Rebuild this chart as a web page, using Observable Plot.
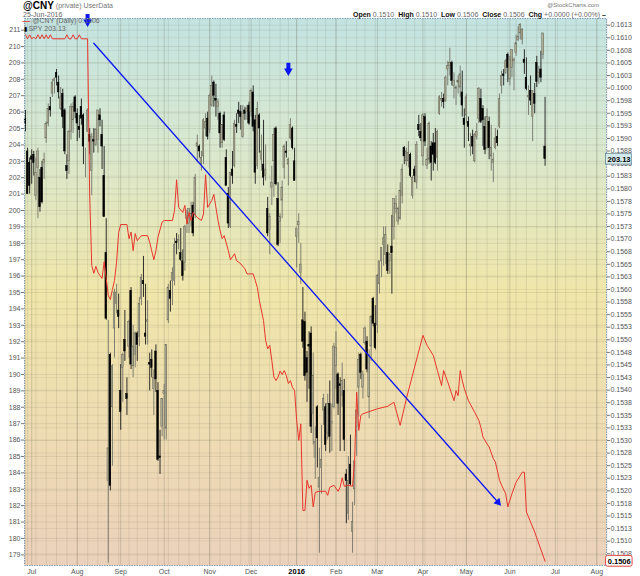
<!DOCTYPE html>
<html><head><meta charset="utf-8">
<script src="https://cdn.jsdelivr.net/npm/d3@7"></script>
<script src="https://cdn.jsdelivr.net/npm/@observablehq/plot@0.6"></script>
<style>body{margin:0;background:#fff;} #chart svg{display:block;}</style>
</head><body><div id="chart"></div>
<script>
// ---------- calendar ----------
const firstDay = "2015-06-26";
const lastDay = "2016-08-10";
const holidays = ["2015-07-03","2015-09-07","2015-11-26","2015-12-25","2016-01-01","2016-01-18","2016-02-15","2016-03-25","2016-05-30","2016-07-04"];

// ---------- SPY daily candles [open, high, low, close], one row per trading day from firstDay ----------
const spyOHLC = [
[205.6,206.1,204.8,205.3],[203.6,203.8,201.0,201.0],[202.9,203.2,201.0,201.5],[203.3,203.7,201.6,203.1],[203.4,203.6,202.1,202.9],
[200.9,203.2,200.6,202.3],[202.6,203.8,199.5,203.6],[202.0,202.5,199.9,200.2],[202.6,203.0,200.4,200.5],[202.9,203.5,201.9,203.1],
[204.4,205.4,204.1,205.3],[205.3,206.5,205.1,206.2],[206.3,206.9,205.7,206.1],[207.1,208.0,206.9,207.8],[207.9,208.1,207.1,208.0],
[208.4,208.6,207.6,208.1],[207.8,208.2,206.8,207.2],[206.2,207.5,206.1,206.9],[207.1,207.4,205.0,205.7],[206.1,206.2,203.4,203.6],
[202.7,203.4,201.9,202.4],[203.0,204.9,202.2,204.8],[204.8,206.5,204.3,206.3],[205.5,206.6,204.7,206.3],[206.9,207.0,205.6,206.0],
[205.9,206.2,204.2,205.3],[205.1,205.8,204.4,204.9],[206.3,206.8,205.2,205.6],[205.8,205.9,202.8,203.9],[203.5,203.8,202.0,203.5],
[204.8,206.2,204.8,206.1],[204.6,205.0,203.4,204.2],[202.4,204.7,200.9,204.5],[204.3,205.0,203.5,204.2],[204.0,205.0,203.9,204.9],
[204.3,206.1,203.5,206.1],[205.8,206.2,205.1,205.5],[204.6,205.5,202.5,203.9],[202.1,203.9,199.6,199.6],[197.4,199.5,193.3,193.4],
[183.5,193.3,178.5,185.5],[191.2,191.3,182.9,183.2],[188.0,190.6,184.4,190.5],[192.8,195.2,191.0,195.0],[194.3,195.5,193.7,195.0],
[193.9,194.9,192.8,193.5],[189.0,190.6,186.6,187.7],[190.4,191.3,188.3,191.2],[192.1,193.9,190.8,191.4],[188.8,189.8,187.5,188.5],
[191.7,193.3,191.0,193.2],[195.1,195.3,190.3,190.6],[190.5,193.0,189.8,191.7],[191.2,192.6,190.4,192.5],[192.5,192.6,190.8,191.8],
[192.3,194.7,191.7,194.3],[194.6,196.1,194.2,195.9],[195.7,197.2,194.7,195.5],[192.5,195.5,191.8,192.3],[193.2,194.5,191.8,193.3],
[190.7,191.3,189.0,190.6],[190.9,191.5,189.8,190.4],[189.1,190.3,187.5,189.8],[191.4,191.8,188.9,189.7],[189.0,189.5,184.7,184.8],
[185.0,186.6,183.9,184.9],[186.8,188.5,186.2,188.5],[188.8,189.4,186.0,189.0],[186.7,191.8,186.0,191.8],[193.3,195.5,193.1,195.3],
[195.1,195.7,193.8,194.6],[195.7,196.5,194.2,196.2],[195.7,198.3,195.4,197.9],[198.1,198.6,197.3,198.0],[198.1,198.5,197.6,198.2],
[197.4,198.9,196.9,197.0],[196.9,197.6,195.7,196.0],[196.8,199.1,196.3,199.0],[199.5,200.0,198.6,200.0],[199.2,200.1,198.6,200.1],
[199.6,200.5,199.0,199.8],[200.3,200.5,198.4,198.6],[199.7,202.2,199.5,202.0],[203.9,204.6,202.9,204.1],[203.9,204.0,203.2,203.6],
[202.8,203.6,202.4,203.2],[203.3,205.6,202.8,205.5],[205.0,205.9,204.5,205.4],[205.6,206.0,204.3,204.5],[204.9,207.1,204.7,207.0],
[206.4,208.2,206.3,207.6],[207.8,207.9,206.3,207.0],[206.8,207.7,205.7,206.7],[206.3,206.8,205.5,206.6],[205.9,206.0,203.8,204.7],
[204.1,205.2,203.8,205.2],[205.8,206.0,204.2,204.3],[203.2,203.7,201.5,201.5],[201.0,201.4,198.9,199.2],[199.0,202.3,198.9,202.3],
[202.5,203.6,201.6,202.1],[202.7,205.5,202.6,205.3],[205.2,205.9,204.7,205.1],[206.1,206.6,205.3,205.9],[206.0,206.4,204.9,205.7],
[204.5,206.4,204.4,205.9],[206.1,206.3,205.5,205.9],[206.0,206.4,205.5,206.2],[206.4,206.6,205.2,205.3],[206.0,207.4,205.7,207.3],
[207.2,207.6,204.8,205.1],[205.5,205.8,201.6,202.3],[202.7,206.6,202.5,206.2],[205.8,205.9,203.5,205.0],[203.1,204.6,202.4,203.6],
[202.8,205.5,201.5,202.0],[202.1,204.0,201.8,202.5],[200.1,200.8,198.4,198.6],[198.8,199.8,197.3,199.6],[201.4,202.7,200.3,201.7],
[203.0,205.0,200.8,204.6],[205.0,205.1,201.5,201.6],[200.7,201.7,197.8,197.9],[199.3,199.8,198.0,199.6],[200.6,201.8,199.5,201.4],
[202.6,204.0,201.9,203.9],[203.6,204.2,203.2,203.5],[202.8,203.2,201.5,203.1],[204.4,205.6,204.3,205.2],[205.0,205.1,203.7,203.8],
[203.0,203.8,201.8,201.8],[198.4,198.9,196.5,198.9],[199.1,199.8,198.0,199.3],[196.2,198.0,195.5,196.7],[193.3,195.3,191.6,192.0],
[193.2,193.8,189.6,189.9],[191.0,191.4,188.3,190.1],[191.8,192.6,189.1,191.7],[192.5,192.9,186.4,186.8],[187.6,191.3,185.7,189.9],
[184.9,186.8,183.6,185.9],[188.0,188.1,184.3,186.1],[183.1,185.5,179.1,183.7],[184.3,186.9,182.7,184.8],[187.8,188.8,186.9,188.5],
[188.0,188.2,185.3,185.7],[186.4,188.8,186.0,188.2],[188.2,189.6,185.2,186.2],[187.0,188.2,185.3,187.1],[188.0,191.9,187.9,191.7],
[190.5,192.6,189.1,191.6],[190.0,190.1,187.5,188.2],[189.4,189.8,185.3,189.3],[188.7,190.7,188.0,189.6],[189.0,189.7,185.3,186.0],
[183.9,184.2,180.9,183.5],[181.5,185.0,181.1,183.5],[184.5,186.3,183.2,183.3],[180.4,182.2,179.1,181.0],[183.0,184.7,182.0,184.7],
[186.8,187.8,185.0,187.8],[189.2,191.3,187.4,190.9],[191.2,191.3,189.7,190.1],[189.2,190.2,188.5,190.0],[191.9,192.9,191.8,192.8],
[192.0,192.3,190.1,190.3],[188.6,191.5,187.3,191.2],[191.7,193.6,190.8,193.5],[194.6,194.7,192.9,193.1],[193.1,194.2,191.5,191.6],
[193.0,196.1,192.5,196.0],[195.5,196.9,194.9,196.9],[196.9,197.7,195.9,197.7],[197.9,199.0,196.6,198.3],[197.3,199.0,196.7,198.5],
[197.4,197.9,196.1,196.3],[196.9,197.4,196.1,197.3],[197.8,199.7,194.9,197.4],[199.0,200.7,198.2,200.7],[200.1,200.9,199.8,200.4],
[199.3,200.2,199.1,200.1],[199.5,201.7,199.4,201.2],[200.9,202.8,200.4,202.5],[203.8,203.9,202.8,203.3],[203.0,203.8,202.7,203.6],
[203.0,204.2,202.6,203.5],[203.4,203.5,202.0,202.1],[200.9,202.1,200.7,202.0],[202.5,202.7,201.7,202.1],[201.7,204.2,201.3,204.0],
[205.2,205.8,204.5,204.9],[204.8,205.3,204.2,204.4],[203.3,205.9,202.7,205.8],[205.7,205.9,203.9,204.2],[202.7,203.8,202.5,203.1],
[203.1,205.4,202.8,205.3],[203.9,204.2,201.8,202.9],[204.1,204.7,202.4,203.4],[204.1,205.0,202.8,202.9],[203.2,204.9,202.4,204.8],
[205.9,207.0,205.8,206.9],[206.7,207.2,206.3,206.8],[206.8,207.1,206.2,206.6],[206.7,208.2,206.6,208.1],[208.6,209.1,207.6,208.8],
[208.8,209.9,208.2,209.0],[209.0,209.1,207.6,207.9],[207.6,208.4,206.8,207.9],[207.4,207.6,206.4,207.5],[207.8,208.2,207.1,207.9],
[207.5,208.8,206.9,208.3],[207.2,208.5,205.7,206.4],[205.6,206.2,203.8,205.2],[205.8,207.1,205.3,206.9],[205.4,205.7,204.2,205.1],
[203.9,204.7,203.3,204.0],[204.5,204.9,203.4,203.9],[203.0,204.7,202.9,204.6],[204.5,205.3,204.3,204.8],[205.6,207.5,205.3,207.4],
[206.8,207.4,205.3,205.4],[206.2,206.4,203.9,205.5],[205.1,205.7,203.4,203.7],[203.8,206.2,203.7,205.7],[205.4,205.7,203.1,203.8],
[203.3,205.2,202.4,203.8],[202.9,203.5,201.7,203.1],[203.8,205.0,203.7,204.4],[204.5,204.9,203.9,204.1],[205.1,207.1,205.0,206.8],
[207.6,208.5,207.1,208.2],[208.3,208.6,207.6,208.2],[208.4,209.2,208.3,209.1],[209.5,209.6,207.8,208.7],[208.0,209.4,207.6,209.2],
[208.7,209.8,208.1,209.8],[209.1,209.3,207.3,209.2],[209.6,210.7,209.4,210.2],[210.4,211.2,210.3,210.6],[210.8,211.4,210.4,211.3],
[210.4,211.1,210.1,211.0],[209.2,209.8,208.3,209.0],[208.1,209.3,207.3,207.4],[206.9,207.6,205.8,207.0],[207.3,208.2,206.4,206.7],
[205.7,207.3,204.2,207.3],[207.1,207.75,205.9,206.5],[209.0,209.4,207.5,207.85],[208.2,208.8,207.7,208.4],[208.6,209.7,207.8,208.1],
[209.5,210.8,209.2,210.8],[203.9,206.9,202.7,203.13]
];

// ---------- @CNY (USD per CNY) ----------
const cnyDates = ["2015-06-26","2015-06-29","2015-06-30","2015-07-01","2015-07-02","2015-07-06","2015-07-07","2015-07-08","2015-07-09","2015-07-10","2015-07-13","2015-07-14","2015-07-15","2015-07-16","2015-07-24","2015-07-27","2015-07-28","2015-07-29","2015-07-30","2015-07-31","2015-08-03","2015-08-04","2015-08-05","2015-08-10","2015-08-11","2015-08-12","2015-08-13","2015-08-14","2015-08-17","2015-08-18","2015-08-19","2015-08-20","2015-08-21","2015-08-24","2015-08-25","2015-08-26","2015-08-27","2015-08-28","2015-08-31","2015-09-01","2015-09-04","2015-09-08","2015-09-09","2015-09-10","2015-09-11","2015-09-14","2015-09-16","2015-09-21","2015-09-22","2015-09-24","2015-09-25","2015-09-28","2015-09-30","2015-10-01","2015-10-07","2015-10-08","2015-10-09","2015-10-12","2015-10-14","2015-10-15","2015-10-16","2015-10-19","2015-10-20","2015-10-21","2015-10-23","2015-10-27","2015-10-28","2015-10-29","2015-10-30","2015-11-03","2015-11-04","2015-11-06","2015-11-09","2015-11-10","2015-11-11","2015-11-13","2015-11-16","2015-11-18","2015-11-19","2015-11-23","2015-11-25","2015-11-27","2015-12-02","2015-12-03","2015-12-04","2015-12-07","2015-12-09","2015-12-10","2015-12-11","2015-12-14","2015-12-15","2015-12-16","2015-12-17","2015-12-18","2015-12-21","2015-12-22","2015-12-23","2015-12-24","2015-12-28","2015-12-29","2015-12-30","2015-12-31","2016-01-04","2016-01-05","2016-01-06","2016-01-07","2016-01-08","2016-01-11","2016-01-12","2016-01-13","2016-01-14","2016-01-15","2016-01-20","2016-01-25","2016-01-26","2016-01-27","2016-01-29","2016-02-02","2016-02-03","2016-02-04","2016-02-05","2016-02-09","2016-02-11","2016-02-12","2016-02-16","2016-02-17","2016-02-18","2016-02-19","2016-03-01","2016-03-08","2016-03-11","2016-03-16","2016-03-21","2016-03-28","2016-04-01","2016-04-05","2016-04-08","2016-04-12","2016-04-14","2016-04-15","2016-04-19","2016-04-22","2016-04-25","2016-04-26","2016-04-27","2016-04-28","2016-04-29","2016-05-03","2016-05-06","2016-05-10","2016-05-11","2016-05-12","2016-05-16","2016-05-17","2016-05-19","2016-05-20","2016-05-24","2016-05-25","2016-05-27","2016-05-31","2016-06-02","2016-06-06","2016-06-09","2016-06-10","2016-06-13","2016-06-17","2016-06-24"];
const cnyValues = [0.16106,0.16098,0.16106,0.16098,0.16101,0.16098,0.16106,0.16098,0.16106,0.16098,0.16106,0.16098,0.16106,0.16098,0.16098,0.16106,0.16098,0.16098,0.16106,0.16098,0.16098,0.16106,0.16098,0.16098,0.15790,0.15648,0.15632,0.15646,0.15634,0.15628,0.15622,0.15655,0.15622,0.15588,0.15580,0.15600,0.15618,0.15654,0.15713,0.15729,0.15729,0.15701,0.15714,0.15677,0.15711,0.15697,0.15707,0.15707,0.15694,0.15659,0.15677,0.15704,0.15734,0.15737,0.15737,0.15757,0.15818,0.15763,0.15753,0.15767,0.15730,0.15753,0.15737,0.15753,0.15743,0.15737,0.15750,0.15828,0.15763,0.15777,0.15789,0.15737,0.15717,0.15701,0.15707,0.15677,0.15659,0.15671,0.15657,0.15651,0.15641,0.15631,0.15631,0.15618,0.15604,0.15578,0.15538,0.15499,0.15482,0.15489,0.15459,0.15426,0.15419,0.15426,0.15438,0.15431,0.15439,0.15429,0.15413,0.15419,0.15405,0.15399,0.15340,0.15300,0.15333,0.15161,0.15161,0.15221,0.15205,0.15211,0.15168,0.15197,0.15199,0.15199,0.15191,0.15207,0.15211,0.15199,0.15207,0.15226,0.15209,0.15211,0.15209,0.15260,0.15396,0.15320,0.15350,0.15353,0.15363,0.15368,0.15376,0.15330,0.15383,0.15446,0.15509,0.15489,0.15469,0.15439,0.15409,0.15439,0.15416,0.15379,0.15399,0.15389,0.15439,0.15419,0.15403,0.15379,0.15356,0.15340,0.15326,0.15307,0.15293,0.15287,0.15264,0.15257,0.15221,0.15211,0.15194,0.15168,0.15194,0.15217,0.15237,0.15237,0.15158,0.15118,0.15060];

// ---------- annotations ----------
const trendDates = ["2015-08-13","2016-05-24"];
const trendValues = [210.2, 182.1];
const markerDates = ["2015-08-10","2015-12-28"];
const markerTop = [211.95, 208.98];
const markerTip = [211.34, 208.35];
const lastSpy = 203.13, lastCny = 0.1506;

// ---------- axes ----------
const monthLabels = ["Jul","Aug","Sep","Oct","Nov","Dec","2016","Feb","Mar","Apr","May","Jun","Jul","Aug"];
const monthDates = ["2015-07-01","2015-08-03","2015-09-01","2015-10-01","2015-11-02","2015-12-01","2016-01-04","2016-02-01","2016-03-01","2016-04-01","2016-05-02","2016-06-01","2016-07-01","2016-08-01"];
const leftTicks = [179,180,181,182,183,184,185,186,187,188,189,190,191,192,193,194,195,196,197,198,199,200,201,202,203,204,205,206,207,208,209,210,211];
const cnyTicks = [0.15075,0.151,0.15125,0.1515,0.15175,0.152,0.15225,0.1525,0.15275,0.153,0.15325,0.1535,0.15375,0.154,0.15425,0.1545,0.15475,0.155,0.15525,0.1555,0.15575,0.156,0.15625,0.1565,0.15675,0.157,0.15725,0.1575,0.15775,0.158,0.15825,0.1585,0.15875,0.159,0.15925,0.1595,0.15975,0.16,0.16025,0.1605,0.16075,0.161,0.16125];
// right (CNY) axis calibration against the left (SPY) axis
const cnyAxisCal = [[0.151, 179.835], [0.16125, 211.30]];

// ---------- build ----------
const parse = d3.utcParse("%Y-%m-%d"), fmt = d3.utcFormat("%Y-%m-%d");
const holidaySet = new Set(holidays);
const tradingDays = d3.utcDays(parse(firstDay), d3.utcDay.offset(parse(lastDay), 1))
  .filter(d => d.getUTCDay() % 6 !== 0 && !holidaySet.has(fmt(d)));
const dayIndex = new Map(tradingDays.map((d, i) => [fmt(d), i]));
const idx = s => dayIndex.has(s) ? dayIndex.get(s) : d3.bisectLeft(tradingDays, parse(s));
const cnyToSpy = d3.scaleLinear(cnyAxisCal.map(d => d[0]), cnyAxisCal.map(d => d[1]));

const spy = spyOHLC.map((r, i) => ({i, o: r[0], h: r[1], l: r[2], c: r[3], down: r[3] < r[0]}));
const cny = cnyDates.map((d, k) => ({i: idx(d), y: cnyToSpy(cnyValues[k])}));
const months = monthDates.map((d, k) => ({i: idx(d), label: monthLabels[k]}));
const weekStarts = tradingDays.map((d, i) => i).filter(i => i === 0 || +d3.utcMonday.floor(tradingDays[i]) !== +d3.utcMonday.floor(tradingDays[i - 1]));
const cnyTickPos = cnyTicks.map(cnyToSpy);
const cnyLabel = new Map(cnyTickPos.map((p, k) => [p, (Math.round(cnyTicks[k] * 1e4 + 1e-6) / 1e4).toFixed(4)]));
const markers = markerDates.map((d, k) => ({i: idx(d), top: markerTop[k], tip: markerTip[k]}));
const trend = trendDates.map((d, k) => ({i: idx(d), y: trendValues[k]}));

const W = 640, H = 576, mL = 24, mR = 34, mT = 18, mB = 11;
const xDomain = [-0.48, 280.68], yDomain = [178.35, 211.71];
const xs = d3.scaleLinear(xDomain, [mL, W - mR]), ys = d3.scaleLinear(yDomain, [H - mB, mT]);
const tdx = xs(trend[1].i) - xs(trend[0].i), tdy = ys(trend[1].y) - ys(trend[0].y);
const theta = Math.atan2(tdy, tdx);
const headR = 3, headTip = 2 * Math.sqrt(headR * headR * Math.PI / (3 * Math.sqrt(3)));
const mR2 = 3.2, mTip = 2 * Math.sqrt(mR2 * mR2 * Math.PI / (3 * Math.sqrt(3)));

const BLUE = "#0a16f2", RED = "#e8352b";
const FONT = "'Liberation Sans', Arial, sans-serif";

const chart = Plot.plot({
  width: W, height: H,
  marginLeft: mL, marginRight: mR, marginTop: mT, marginBottom: mB,
  style: {fontFamily: FONT, background: "transparent", overflow: "visible"},
  x: {domain: xDomain, axis: null},
  y: {domain: yDomain},
  color: {type: "identity"},
  marks: [
    Plot.frame({fill: "url(#bgGrad)"}),
    Plot.gridY(cnyTickPos, {stroke: "#5a5a48", strokeOpacity: 0.09}),
    Plot.gridY(leftTicks, {stroke: "#5a5a48", strokeOpacity: 0.13}),
    Plot.gridX(weekStarts, {stroke: "#5a5a48", strokeOpacity: 0.12}),
    Plot.gridX(months.map(d => d.i), {stroke: "#5a5a48", strokeOpacity: 0.22}),
    Plot.ruleX(spy, {x: "i", y1: "l", y2: "h", stroke: d => d.down ? "#1a1a1a" : "#74746a", strokeWidth: 0.9}),
    Plot.rect(spy, {x1: d => d.i - 0.38, x2: d => d.i + 0.38, y1: "o", y2: "c",
      fill: d => d.down ? "#000" : "#b2af96", stroke: d => d.down ? "#000" : "#666658", strokeWidth: 0.5}),
    Plot.line(cny, {x: "i", y: "y", stroke: RED, strokeWidth: 1}),
    Plot.line(trend, {x: "i", y: "y", stroke: BLUE, strokeWidth: 1.3}),
    Plot.dot([trend[1]], {x: "i", y: "y", symbol: "triangle", r: headR, fill: BLUE, stroke: "none",
      rotate: theta * 180 / Math.PI + 90, dx: -headTip / 2 * Math.cos(theta), dy: -headTip / 2 * Math.sin(theta)}),
    Plot.ruleX(markers, {x: "i", y1: "top", y2: "tip", stroke: BLUE, strokeWidth: 4, insetBottom: 4}),
    Plot.dot(markers, {x: "i", y: "tip", symbol: "triangle", r: mR2, rotate: 180, fill: BLUE, stroke: "none", dy: -mTip / 2}),
    Plot.axisY(leftTicks, {anchor: "left", tickSize: 3, tickPadding: 1, fontSize: 7, fill: "#555", stroke: "#777", label: null}),
    Plot.axisY(cnyTickPos, {anchor: "right", tickSize: 3, tickPadding: 1, fontSize: 7, fill: "#555", stroke: "#777", label: null,
      tickFormat: d => cnyLabel.get(d)}),
    Plot.text(months.filter(d => d.label !== "2016"), {x: "i", text: "label", frameAnchor: "bottom", dy: 6, lineAnchor: "middle", fontSize: 7, fill: "#555"}),
    Plot.text(months.filter(d => d.label === "2016"), {x: "i", text: "label", frameAnchor: "bottom", dy: 6, lineAnchor: "middle", fontSize: 7.5, fontWeight: "bold", fill: "#000"}),
    Plot.frame({stroke: "#7f9fb8", strokeDasharray: "1.5,1"}),
    Plot.rect([{y: lastSpy}], {x1: xDomain[1] - 0.2, x2: xDomain[1] + 12.2, y1: d => d.y - 0.33, y2: d => d.y + 0.33,
      fill: "#d3ebee", stroke: "#55788a", strokeWidth: 0.7}),
    Plot.text([{y: lastSpy}], {x: xDomain[1] + 0.5, y: "y", text: d => d.y.toFixed(2), textAnchor: "start", fontSize: 7.5, fontWeight: "bold", fill: "#000"}),
    Plot.rect([{y: cnyToSpy(lastCny)}], {x1: xDomain[1] - 0.2, x2: xDomain[1] + 12.6, y1: d => d.y - 0.33, y2: d => d.y + 0.33,
      fill: "#fff", stroke: "#e03030", strokeWidth: 0.9, rx: 2}),
    Plot.text([{y: cnyToSpy(lastCny), v: lastCny}], {x: xDomain[1] + 0.6, y: "y", text: d => d.v.toFixed(4), textAnchor: "start", fontSize: 7.5, fontWeight: "bold", fill: "#000"})
  ]
});
document.getElementById("chart").appendChild(chart);

// ---------- background gradient + header texts ----------
const svg = d3.select(chart);
const grad = svg.insert("defs", ":first-child").append("linearGradient")
  .attr("id", "bgGrad").attr("x1", 0).attr("y1", 0).attr("x2", 0).attr("y2", 1);
[["0%", "#c3e3e1"], ["22%", "#d8e8d0"], ["50%", "#f0e6aa"], ["75%", "#eedcb2"], ["100%", "#ebd1bb"]]
  .forEach(([o, c]) => grad.append("stop").attr("offset", o).attr("stop-color", c));

function addText(x, y, parts, anchor) {
  const t = svg.append("text").attr("x", x).attr("y", y).attr("text-anchor", anchor || "start")
    .attr("dominant-baseline", "middle").attr("font-family", FONT);
  parts.forEach(p => t.append("tspan").text(p.t).attr("font-size", p.s || 7)
    .attr("font-weight", p.b ? "bold" : null).attr("fill", p.c || "#666"));
}
addText(23, 6, [{t: "@CNY", s: 10, b: 1, c: "#000"}, {t: " (private) ", s: 7, c: "#777"}, {t: "UserData", s: 7, c: "#777"}]);
addText(23, 14.5, [{t: "25-Jun-2016", s: 7, c: "#666"}]);
addText(599, 5, [{t: "@StockCharts.com", s: 6, c: "#777"}], "end");
addText(606, 14.5, [
  {t: "Open ", b: 1, c: "#111"}, {t: "0.1510  "}, {t: "High ", b: 1, c: "#111"}, {t: "0.1510  "},
  {t: "Low ", b: 1, c: "#111"}, {t: "0.1506  "}, {t: "Close ", b: 1, c: "#111"}, {t: "0.1506  "},
  {t: "Chg ", b: 1, c: "#111"}, {t: "+0.0000 (+0.00%) "}, {t: "\u2013", b: 1, c: "#111"}], "end");
addText(22.5, 20.8, [{t: "\u2014", s: 8, b: 1, c: RED}, {t: " @CNY (Daily) 0.1506", s: 7, c: "#666"}]);
addText(23.5, 28.5, [{t: "\u25AE", s: 6, c: "#000"}, {t: " SPY 203.13", s: 7, c: "#666"}]);
</script>
</body></html>
